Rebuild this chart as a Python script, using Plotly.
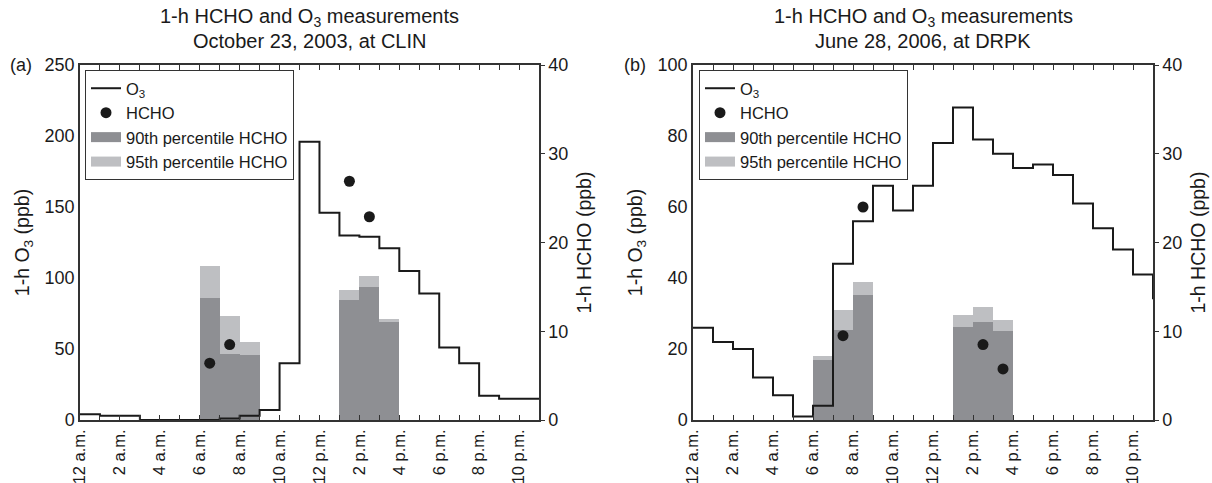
import plotly.graph_objects as go

W, H = 1212, 483

# ---------------- data ----------------
hours = list(range(24))  # step edges 0..23
tick_hours = list(range(23))
tick_labels = ["12 a.m.", "", "2 a.m.", "", "4 a.m.", "", "6 a.m.", "", "8 a.m.", "", "10 a.m.", "",
               "12 p.m.", "", "2 p.m.", "", "4 p.m.", "", "6 p.m.", "", "8 p.m.", "", "10 p.m."]

# Panel (a): October 23, 2003, CLIN
o3_a = [4, 3, 3, 0, 0, 0, 0, 1, 3, 7, 40, 196, 146, 130, 129, 121, 105, 89, 51, 40, 17, 15, 15, 15]
bar_hours_a = [6, 7, 8, 13, 14, 15]
p90_a = [13.8, 7.4, 7.3, 13.5, 15.0, 11.0]
p95_a = [17.3, 11.7, 8.8, 14.6, 16.2, 11.4]
hcho_hours_a = [6, 7, 13, 14]
hcho_a = [6.4, 8.5, 26.9, 22.9]

# Panel (b): June 28, 2006, DRPK
o3_b = [26, 22, 20, 12, 7, 1, 4, 44, 56, 66, 59, 66, 78, 88, 79, 75, 71, 72, 69, 61, 54, 48, 41, 34]
bar_hours_b = [6, 7, 8, 13, 14, 15]
p90_b = [6.8, 10.1, 14.05, 10.5, 11.0, 10.0]
p95_b = [7.2, 12.4, 15.5, 11.8, 12.7, 11.3]
hcho_hours_b = [7, 8, 14, 15]
hcho_b = [9.5, 24.0, 8.5, 5.75]

titles = [("1-h HCHO and O<sub>3</sub> measurements", "October 23, 2003, at CLIN"),
          ("1-h HCHO and O<sub>3</sub> measurements", "June 28, 2006, at DRPK")]
panel_labels = ["(a)", "(b)"]

# ---------------- style ----------------
FONT = "Liberation Sans, Arial, Helvetica, sans-serif"
INK = "#1a1a1a"
AX = "#333333"
C90 = "#8e8f93"
C95 = "#bebfc2"
FS = 18      # tick labels
FT = 20      # titles
FA = 19.5    # axis titles

px_x = lambda p: p / W
px_y = lambda p: (H - p) / H

dom_a = [px_x(80), px_x(539)]
dom_b = [px_x(693), px_x(1153)]
dom_y = [px_y(420), px_y(65)]

fig = go.Figure()

panels = [
    dict(o3=o3_a, bh=bar_hours_a, p90=p90_a, p95=p95_a, hh=hcho_hours_a, hv=hcho_a,
         x="x", yh="y", yo="y2", legend="legend"),
    dict(o3=o3_b, bh=bar_hours_b, p90=p90_b, p95=p95_b, hh=hcho_hours_b, hv=hcho_b,
         x="x2", yh="y3", yo="y4", legend="legend2"),
]

for p in panels:
    centers = [h + 0.5 for h in p["bh"]]
    fig.add_trace(go.Bar(x=centers, y=p["p95"], width=1, marker=dict(color=C95, line=dict(width=0)),
                         name="95th percentile HCHO", xaxis=p["x"], yaxis=p["yh"], showlegend=False))
    fig.add_trace(go.Bar(x=centers, y=p["p90"], width=1, marker=dict(color=C90, line=dict(width=0)),
                         name="90th percentile HCHO", xaxis=p["x"], yaxis=p["yh"], showlegend=False))
    fig.add_trace(go.Scatter(x=[h + 0.5 for h in p["hh"]], y=p["hv"], mode="markers",
                             marker=dict(color=INK, size=11), name="HCHO",
                             xaxis=p["x"], yaxis=p["yh"], legend=p["legend"], legendrank=2))
    fig.add_trace(go.Scatter(x=hours, y=p["o3"], mode="lines", line=dict(color=INK, width=2, shape="hv"),
                             name="O<sub>3</sub>", xaxis=p["x"], yaxis=p["yo"],
                             legend=p["legend"], legendrank=1))
    # legend-only entries giving wide rectangular swatches for the bars
    fig.add_trace(go.Scatter(x=[None], y=[None], mode="lines", line=dict(color=C90, width=12),
                             name="90th percentile HCHO", xaxis=p["x"], yaxis=p["yh"],
                             legend=p["legend"], legendrank=3, hoverinfo="skip"))
    fig.add_trace(go.Scatter(x=[None], y=[None], mode="lines", line=dict(color=C95, width=12),
                             name="95th percentile HCHO", xaxis=p["x"], yaxis=p["yh"],
                             legend=p["legend"], legendrank=4, hoverinfo="skip"))

xcommon = dict(range=[0, 23], tickmode="array", tickvals=tick_hours, ticktext=tick_labels,
               ticks="inside", ticklen=5, tickwidth=1, tickcolor=AX, tickangle=-90, ticklabelstandoff=1,
               showline=True, linecolor=AX, linewidth=1.5, mirror="ticks", automargin=False,
               showgrid=False, zeroline=False, tickfont=dict(size=16.5, color=INK))
ycommon = dict(showline=True, linecolor=AX, linewidth=1.5, showgrid=False, zeroline=False, automargin=False,
               tickfont=dict(size=FS, color=INK), title_font=dict(size=FA, color=INK))

legcommon = dict(bordercolor=AX, borderwidth=1, bgcolor="white", font=dict(size=16.5, color=INK, family=FONT),
                 xanchor="left", yanchor="top", itemwidth=30, tracegroupgap=0, traceorder="normal")

fig.update_layout(
    template="none",
    width=W, height=H,
    margin=dict(l=0, r=0, t=0, b=0),
    paper_bgcolor="white", plot_bgcolor="white",
    font=dict(family=FONT, color=INK, size=FS),
    barmode="overlay", bargap=0,
    xaxis=dict(domain=dom_a, anchor="y", **xcommon),
    xaxis2=dict(domain=dom_b, anchor="y3", **xcommon),
    yaxis=dict(domain=dom_y, anchor="x", side="right", range=[0, 40], tickvals=[0, 10, 20, 30, 40],
               ticks="outside", ticklen=4, tickcolor=AX, title=dict(text="1-h HCHO (ppb)", standoff=10),
               **ycommon),
    yaxis2=dict(overlaying="y", anchor="x", side="left", range=[0, 250], tickvals=[0, 50, 100, 150, 200, 250],
                ticks="", title=dict(text="1-h O<sub>3</sub> (ppb)", standoff=10), **ycommon),
    yaxis3=dict(domain=dom_y, anchor="x2", side="right", range=[0, 40], tickvals=[0, 10, 20, 30, 40],
                ticks="outside", ticklen=4, tickcolor=AX, title=dict(text="1-h HCHO (ppb)", standoff=10),
                **ycommon),
    yaxis4=dict(overlaying="y3", anchor="x2", side="left", range=[0, 100], tickvals=[0, 20, 40, 60, 80, 100],
                ticks="", title=dict(text="1-h O<sub>3</sub> (ppb)", standoff=10), **ycommon),
    legend=dict(x=px_x(85), y=px_y(70), **legcommon),
    legend2=dict(x=px_x(699), y=px_y(70), **legcommon),
    showlegend=True,
)

annotations = []
for (t1, t2), dom, lab, labx in zip(titles, [dom_a, dom_b], panel_labels, [8, 622]):
    cx = (dom[0] + dom[1]) / 2
    annotations.append(dict(text=t1, x=cx, y=px_y(18), xref="paper", yref="paper",
                            showarrow=False, font=dict(size=FT, color=INK), xanchor="center", yanchor="middle"))
    annotations.append(dict(text=t2, x=cx, y=px_y(41), xref="paper", yref="paper",
                            showarrow=False, font=dict(size=FT, color=INK), xanchor="center", yanchor="middle"))
    annotations.append(dict(text=lab, x=px_x(labx), y=px_y(65), xref="paper", yref="paper",
                            showarrow=False, font=dict(size=FS, color=INK), xanchor="left", yanchor="middle"))
fig.update_layout(annotations=annotations)

fig.write_html("out.html", config={"displayModeBar": False},
               post_script="document.body.style.margin='0';")
